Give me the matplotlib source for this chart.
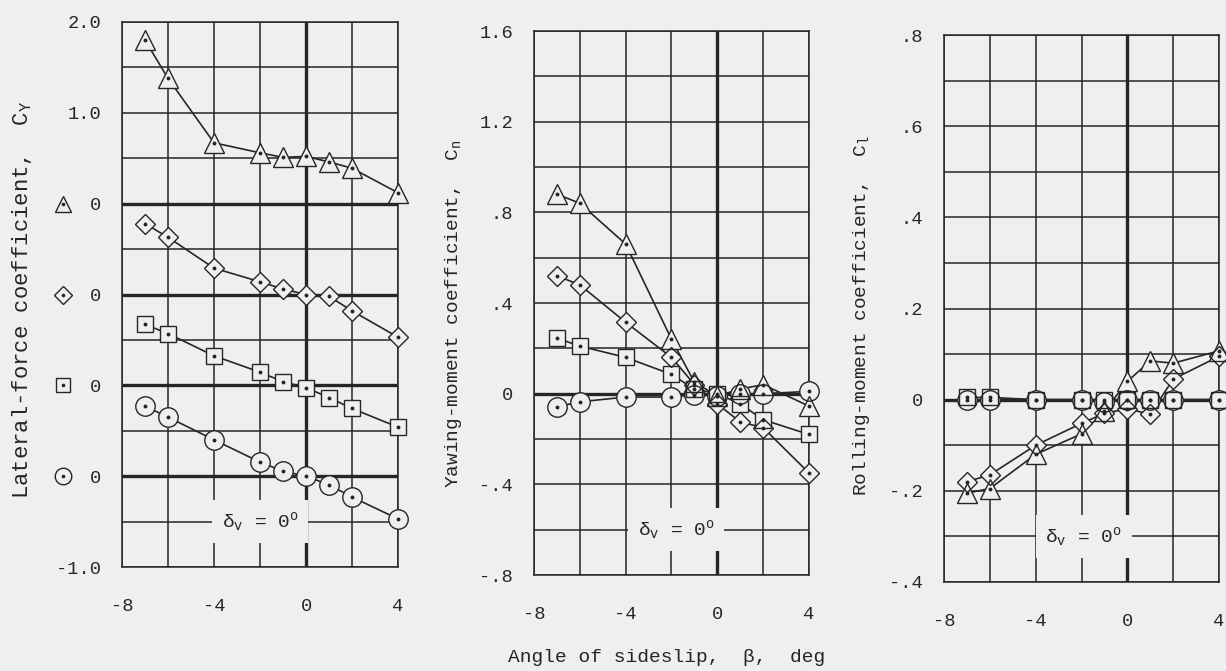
import matplotlib
matplotlib.use("Agg")
import matplotlib.pyplot as plt
import numpy as np

plt.rcParams['font.family'] = ['Liberation Mono', 'DejaVu Sans']
plt.rcParams['mathtext.default'] = 'regular'

# angle of sideslip, deg
beta = [-7, -6, -4, -2, -1, 0, 1, 2, 4]

# lateral-force coefficient (each series has its own zero line)
cy_tri = [1.80, 1.38, 0.67, 0.56, 0.51, 0.52, 0.46, 0.39, 0.12]
cy_dia = [0.78, 0.63, 0.29, 0.14, 0.06, 0.0, -0.02, -0.18, -0.47]
cy_sq = [0.67, 0.57, 0.325, 0.145, 0.04, -0.025, -0.135, -0.255, -0.46]
cy_cir = [0.77, 0.65, 0.40, 0.155, 0.055, 0.0, -0.095, -0.23, -0.47]

# yawing-moment coefficient
cn_tri = [0.88, 0.84, 0.66, 0.24, 0.05, -0.01, 0.02, 0.04, -0.055]
cn_dia = [0.52, 0.48, 0.315, 0.16, 0.04, -0.045, -0.125, -0.15, -0.35]
cn_sq = [0.245, 0.21, 0.16, 0.085, 0.02, 0.0, -0.045, -0.115, -0.18]
cn_cir = [-0.058, -0.036, -0.015, -0.015, -0.005, -0.01, 0.0, 0.0, 0.01]

# rolling-moment coefficient
cl_tri = [-0.205, -0.195, -0.12, -0.075, -0.025, 0.04, 0.085, 0.08, 0.107]
cl_dia = [-0.18, -0.165, -0.10, -0.052, -0.03, -0.02, -0.032, 0.045, 0.095]
cl_sq = [0.005, 0.005, 0.0, 0.0, 0.0, 0.0, 0.0, 0.0, 0.0]
cl_cir = [0.0, 0.0, 0.0, 0.0, -0.005, 0.0, 0.0, 0.0, 0.0]

x_ticks = [-8, -4, 0, 4]
x_ticklabels = ['-8', '-4', '0', '4']

paper = '#efeff1'
ink = '#262626'
W, H = 1226, 671

# marker styles: (marker, size)
styles = {'tri': ('^', 14), 'dia': ('D', 10.5), 'sq': ('s', 12), 'cir': ('o', 14)}

fig = plt.figure(figsize=(W / 100, H / 100), dpi=100, facecolor=paper)


def setup(ax, ylo, yhi, ystep, thick, yticks, ylabels):
    ax.set_facecolor(paper)
    ax.set_xlim(-8, 4)
    ax.set_ylim(ylo, yhi)
    for x in range(-8, 5, 2):
        ax.axvline(x, color=ink, lw=2.4 if x == 0 else 1.1, zorder=1)
    for y in np.arange(ylo, yhi + ystep / 2, ystep):
        heavy = any(abs(y - t) < 1e-9 for t in thick)
        ax.axhline(y, color=ink, lw=2.4 if heavy else 1.1, zorder=1)
    for s in ax.spines.values():
        s.set_color(ink)
        s.set_linewidth(1.1)
    ax.set_xticks(x_ticks)
    ax.set_xticklabels(x_ticklabels)
    ax.set_yticks(yticks)
    ax.set_yticklabels(ylabels)
    ax.tick_params(axis='both', length=0, labelsize=13.5, colors=ink)
    ax.tick_params(axis='x', pad=22)
    ax.tick_params(axis='y', pad=15)


def draw(ax, series, offsets):
    for key, vals in series.items():
        yv = np.array(vals) + offsets.get(key, 0)
        ax.plot(beta, yv, color=ink, lw=1.2, zorder=2, clip_on=False)
    # paper-filled markers hide the lines, then outlines on top so overlaps stay visible
    for key, vals in series.items():
        m, ms = styles[key]
        yv = np.array(vals) + offsets.get(key, 0)
        ax.plot(beta, yv, ls='none', marker=m, ms=ms, mfc=paper, mec='none',
                zorder=3, clip_on=False)
    for key, vals in series.items():
        m, ms = styles[key]
        yv = np.array(vals) + offsets.get(key, 0)
        ax.plot(beta, yv, ls='none', marker=m, ms=ms, mfc='none', mec=ink,
                mew=1.0, zorder=4, clip_on=False)
        ax.plot(beta, yv, ls='none', marker='o', ms=1.8, color=ink, zorder=5,
                clip_on=False)


def delta_label(ax, x, y):
    ax.text(x, y, r'δ$_{v}$ = 0$^{o}$', ha='center', va='center', fontsize=14,
            color=ink, zorder=6,
            bbox=dict(facecolor=paper, edgecolor='none', pad=7))


# lateral force
ax1 = fig.add_axes([122 / W, 1 - 567 / H, 276 / W, 545 / H])
offs1 = {'tri': 0, 'dia': -1, 'sq': -2, 'cir': -3}
setup(ax1, -4, 2, 0.5, [0, -1, -2, -3], [2, 1, 0, -1, -2, -3, -4],
      ['2.0', '1.0', '0', '0', '0', '0', '-1.0'])
draw(ax1, {'tri': cy_tri, 'dia': cy_dia, 'sq': cy_sq, 'cir': cy_cir}, offs1)
for key, off in offs1.items():
    m, ms = styles[key]
    ax1.plot([-0.215], [off], transform=ax1.get_yaxis_transform(), ls='none',
             marker=m, ms=ms * 0.85, mfc='none', mec=ink, mew=1.0, clip_on=False)
    ax1.plot([-0.215], [off], transform=ax1.get_yaxis_transform(), ls='none',
             marker='o', ms=1.6, color=ink, clip_on=False)
delta_label(ax1, -2, -3.5)

# yawing moment
ax2 = fig.add_axes([534 / W, 1 - 575 / H, 275 / W, 544 / H])
setup(ax2, -0.8, 1.6, 0.2, [0], [1.6, 1.2, 0.8, 0.4, 0, -0.4, -0.8],
      ['1.6', '1.2', '.8', '.4', '0', '-.4', '-.8'])
draw(ax2, {'tri': cn_tri, 'dia': cn_dia, 'sq': cn_sq, 'cir': cn_cir}, {})
delta_label(ax2, -1.8, -0.6)

# rolling moment
ax3 = fig.add_axes([944 / W, 1 - 582 / H, 275 / W, 547 / H])
setup(ax3, -0.4, 0.8, 0.1, [0], [0.8, 0.6, 0.4, 0.2, 0, -0.2, -0.4],
      ['.8', '.6', '.4', '.2', '0', '-.2', '-.4'])
draw(ax3, {'tri': cl_tri, 'dia': cl_dia, 'sq': cl_sq, 'cir': cl_cir}, {})
delta_label(ax3, -1.9, -0.3)

fig.text(22 / W, 1 - 300 / H, 'Lateral-force coefficient,  C$_{Y}$',
         rotation=90, ha='center', va='center', fontsize=16, color=ink)
fig.text(453 / W, 1 - 314 / H, 'Yawing-moment coefficient,  C$_{n}$',
         rotation=90, ha='center', va='center', fontsize=14, color=ink)
fig.text(862 / W, 1 - 316 / H, 'Rolling-moment coefficient,  C$_{l}$',
         rotation=90, ha='center', va='center', fontsize=14, color=ink)
fig.text(667 / W, 1 - 657 / H, 'Angle of sideslip,  β,  deg',
         ha='center', va='center', fontsize=14, color=ink)

fig.savefig('out.png', dpi=100, facecolor=paper)
